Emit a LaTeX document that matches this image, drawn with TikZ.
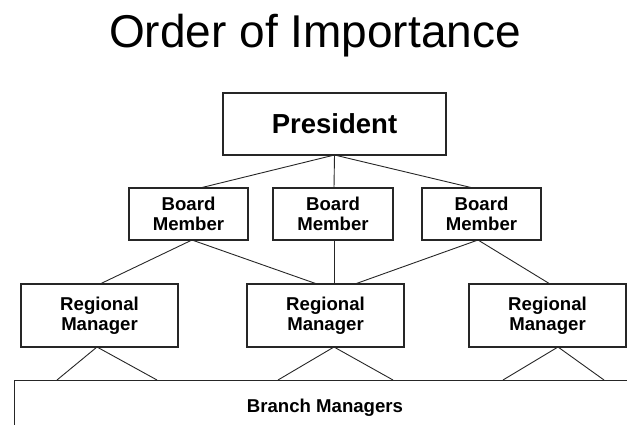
\documentclass[tikz,border=0pt]{standalone}
\usepackage{fontspec}
\setmainfont{Liberation Sans}
\begin{document}
\begin{tikzpicture}[x=1pt,y=-1pt,
  box/.style={draw=black!85,line width=1.3pt,rectangle,inner sep=0pt,align=center,font=\bfseries\fontsize{18.6}{19.8}\selectfont},
  conn/.style={draw=black!85,line width=0.9pt}]
\useasboundingbox (0,0) rectangle (627,425);
\clip (0,0) rectangle (627,425);
\node[anchor=base,font=\fontsize{46}{50}\selectfont] (title) at (315,48) {Order of Importance};
\node[box,minimum width=223pt,minimum height=62pt,font=\bfseries\fontsize{27.5}{30}\selectfont] (pres) at (334.5,124) {President};
\node[box,minimum width=119pt,minimum height=52pt] (bl) at (188.5,214) {Board\\Member};
\node[box,minimum width=120pt,minimum height=52pt] (bm) at (333,214) {Board\\Member};
\node[box,minimum width=119pt,minimum height=52pt] (br) at (481.5,214) {Board\\Member};
\node[box,minimum width=157pt,minimum height=63pt] (rl) at (99.5,315.5) {Regional\\Manager};
\node[box,minimum width=157pt,minimum height=63pt] (rm) at (325.5,315.5) {Regional\\Manager};
\node[box,minimum width=157pt,minimum height=63pt] (rr) at (547.5,315.5) {Regional\\Manager};
\node[box,minimum width=660pt,minimum height=90pt,anchor=north west,text width=0pt] (branch) at (14,380) {};
\node[font=\bfseries\fontsize{18.6}{20}\selectfont] (branchlbl) at (325,408) {Branch Managers};
% attachment points
\coordinate (pb) at (334.5,155);
\coordinate (blt) at (200,188);
\coordinate (bmt) at (334,188);
\coordinate (brt) at (473,188);
\coordinate (blb) at (192,240);
\coordinate (bmb) at (334,240);
\coordinate (brb) at (478,240);
\coordinate (rlt) at (100,284);
\coordinate (rmt1) at (317,284);
\coordinate (rmt2) at (334,284);
\coordinate (rmt3) at (355,284);
\coordinate (rrt) at (550,284);
\coordinate (rlb) at (97,347);
\coordinate (rmb) at (334,347);
\coordinate (rrb) at (558,347);
\coordinate (b1) at (57,380);
\coordinate (b2) at (157,380);
\coordinate (b3) at (278,380);
\coordinate (b4) at (393,380);
\coordinate (b5) at (503,380);
\coordinate (b6) at (604,380);
\draw[conn] (blt) -- (pb) -- (brt);
\draw[conn] (pb) -- (bmt);
\draw[conn] (rlt) -- (blb) -- (rmt1);
\draw[conn] (bmb) -- (rmt2);
\draw[conn] (rmt3) -- (brb) -- (rrt);
\draw[conn] (b1) -- (rlb) -- (b2);
\draw[conn] (b3) -- (rmb) -- (b4);
\draw[conn] (b5) -- (rrb) -- (b6);
\end{tikzpicture}
\end{document}
